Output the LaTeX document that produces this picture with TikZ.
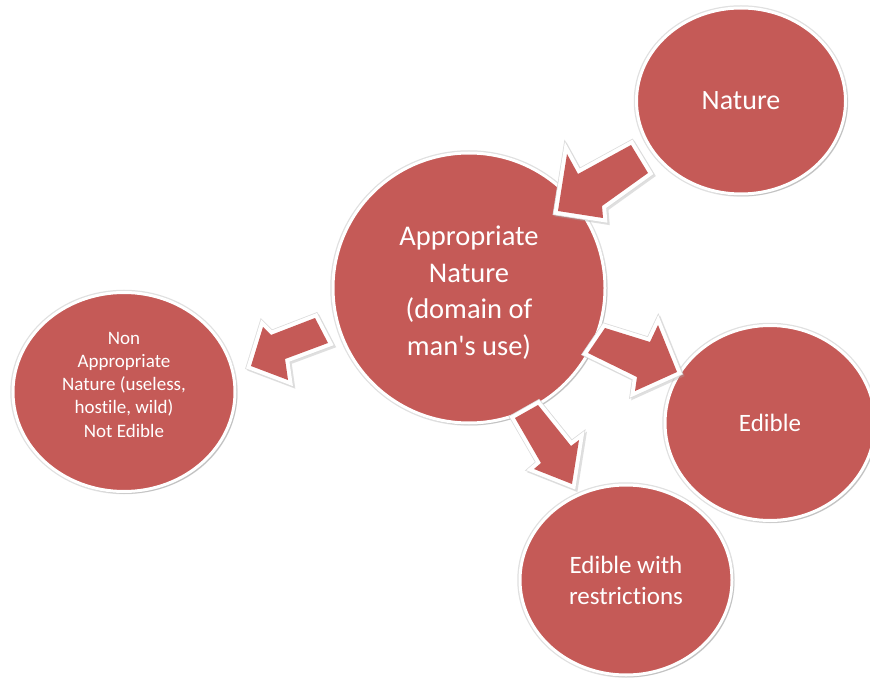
\documentclass[tikz,border=0pt]{standalone}
\usepackage{fontspec}
\setmainfont{Carlito}[Ligatures=NoCommon]
\usetikzlibrary{shapes.geometric,shadows,calc}
\definecolor{bubblered}{HTML}{C55A57}
\newcommand\shiftedlines[2]{\raisebox{#1}[\height][\depth]{\begin{tabular}{@{}c@{}}#2\end{tabular}}}
\newcommand\blockarrowpoly[1]{%
  \path[arrowshadow] #1;
  \path[arrowhalo] #1;
  \path[arrowrim] #1;
  \path[arrowbody] #1;
}
\begin{document}
\begin{tikzpicture}[x=1pt,y=-1pt,
  bubble/.style={ellipse, fill=bubblered, draw=white, line width=3pt,
    text=white, inner sep=0pt,
    preaction={draw=black!12, line width=5.5pt},
    drop shadow={shadow xshift=2.2pt, shadow yshift=-2.2pt, fill=black!45, opacity=0.35}},
  arrowshadow/.style={draw=black!35, fill=black!35, line width=9pt, line join=miter,
    opacity=0.35, transform canvas={shift={(1.8pt,-1.8pt)}}},
  arrowhalo/.style={draw=black!14, line width=9.5pt, line join=miter},
  arrowrim/.style={draw=white, fill=white, line width=8pt, line join=miter},
  arrowbody/.style={fill=bubblered}]
\fill[white] (0,0) rectangle (870,679);
\path[use as bounding box] (0,0) rectangle (870,679);

\node[bubble, minimum width=209pt, minimum height=186pt,
  font=\fontsize{28}{34}\selectfont] (nature) at (741,101) {Nature};
\node[bubble, minimum width=272pt, minimum height=270pt,
  font=\fontsize{28.5}{36.5}\selectfont] (approp) at (469,288)
  {\shiftedlines{-5pt}{Appropriate\\Nature\\(domain of\\man\textquotesingle s use)}};
\node[bubble, minimum width=222pt, minimum height=199pt,
  font=\fontsize{19}{23.3}\selectfont] (nonapprop) at (124,392)
  {\shiftedlines{6pt}{Non\\Appropriate\\Nature (useless,\\hostile, wild)\\Not Edible}};
\node[bubble, minimum width=210pt, minimum height=195pt,
  font=\fontsize{25}{31}\selectfont] (edible) at (770,423) {Edible};
\node[bubble, minimum width=212pt, minimum height=190pt,
  font=\fontsize{25}{31.5}\selectfont] (restr) at (626,580)
  {\shiftedlines{-2.5pt}{Edible with\\restrictions}};

% Nature -> Appropriate Nature
\coordinate (a1tail) at (640,159);
\coordinate (a1tip) at (558,211);
\blockarrowpoly{(a1tip) -- (567,154) -- (578,174) -- (631,145) -- (648,173) -- (602,206) -- (603,218) -- cycle}
% Appropriate Nature -> Non Appropriate
\coordinate (a2tail) at (321,331);
\coordinate (a2tip) at (251,366);
\blockarrowpoly{(a2tip) -- (263,327) -- (271,335) -- (315,318) -- (328,343) -- (285,359) -- (288,380) -- cycle}
% Appropriate Nature -> Edible
\coordinate (a3tail) at (597,341);
\coordinate (a3tip) at (677,372);
\blockarrowpoly{(a3tip) -- (635,391) -- (637,377) -- (588,353) -- (605,328) -- (650,342) -- (658,325) -- cycle}
% Appropriate Nature -> Edible with restrictions
\coordinate (a4tail) at (527,411);
\coordinate (a4tip) at (572,484);
\blockarrowpoly{(a4tip) -- (534,469) -- (541,463) -- (515,418) -- (538,405) -- (571,446) -- (579,440) -- cycle}
\end{tikzpicture}
\end{document}
